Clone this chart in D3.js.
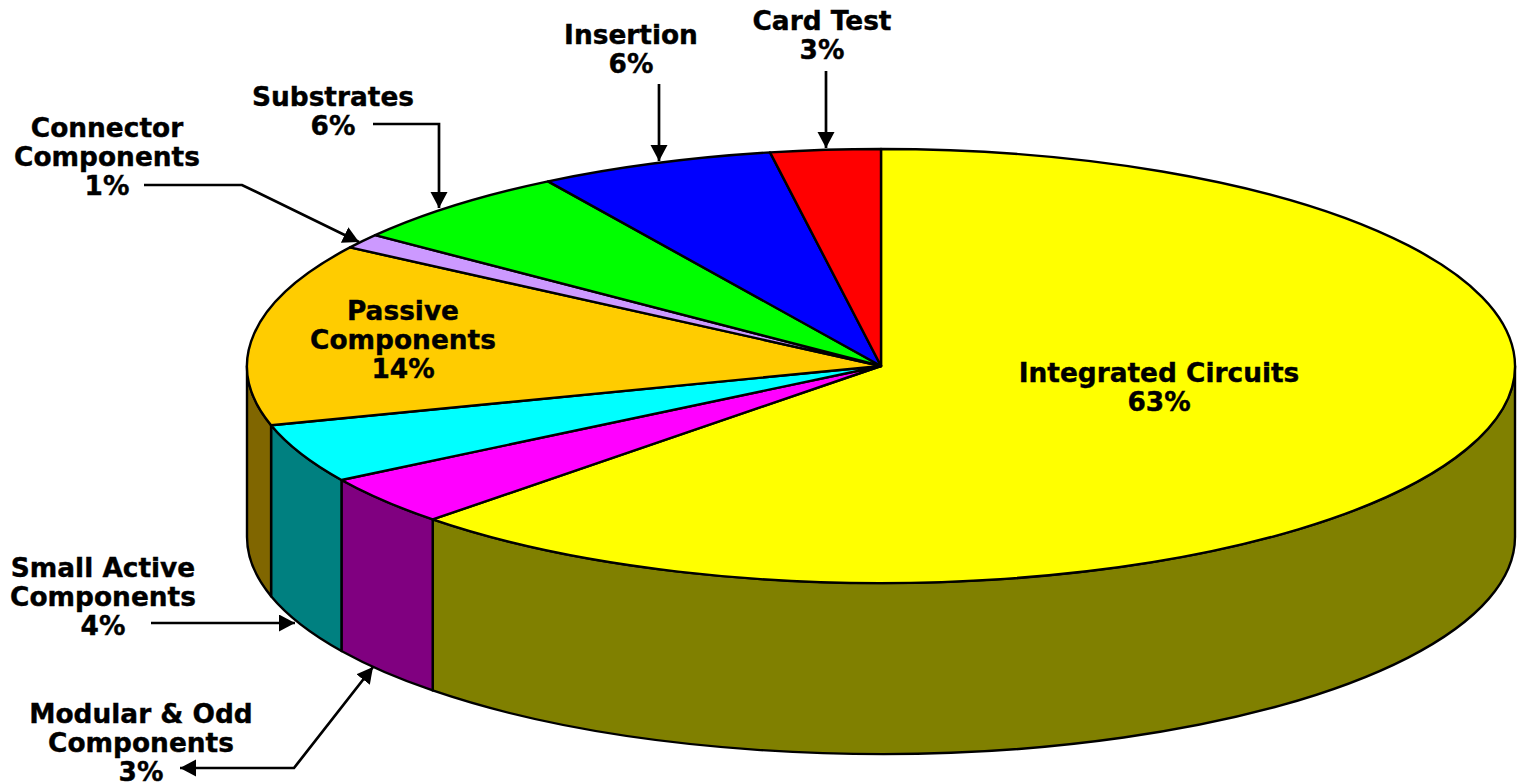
<!DOCTYPE html>
<html>
<head>
<meta charset="utf-8"/>
<script src="https://d3js.org/d3.v7.min.js"></script>
<style>
  html, body { margin: 0; background: #fff; }
  svg { display: block; }
  text { font-family: "DejaVu Sans", Verdana, sans-serif; font-weight: bold; font-size: 26.4px; fill: #000; stroke: #000; stroke-width: 0.4px; text-anchor: middle; }
</style>
</head>
<body>
<script>
// slice data, clockwise from 12 o'clock
var categories = ["Integrated Circuits", "Modular & Odd Components", "Small Active Components", "Passive Components", "Connector Components", "Substrates", "Insertion", "Card Test"];
var values = [62.5, 3.7, 4.4, 13.6, 1.1, 5.9, 6, 2.8];
var shownPct = ["63%", "3%", "4%", "14%", "1%", "6%", "6%", "3%"];
var topColors = ["#ffff00", "#ff00ff", "#00ffff", "#ffcc00", "#cc99ff", "#00ff00", "#0000ff", "#ff0000"];
var sideColors = ["#808000", "#800080", "#008080", "#806600", "#666699", "#008000", "#000080", "#800000"];

// label layout: line breaks, centre x, first baseline
var labelLines = [["Integrated Circuits"], ["Modular & Odd", "Components"], ["Small Active", "Components"], ["Passive", "Components"], ["Connector", "Components"], ["Substrates"], ["Insertion"], ["Card Test"]];
var labelX = [1159, 141, 103, 403, 107, 333, 631, 822];
var labelY = [382, 723, 577, 320, 137, 106, 44, 30];
var lineHeight = 29;

// callout arrows
var callouts = [
  {pts: [[826, 71], [826, 148]]},
  {pts: [[659, 84], [659, 161]]},
  {pts: [[373, 124], [439, 124], [439, 208]]},
  {pts: [[144, 185], [242, 185], [359, 242]]},
  {pts: [[151, 623], [295, 623]]},
  {pts: [[180, 768], [294, 768], [373, 667]], both: true}
];

var width = 1518, height = 783;
var cx = 881, cy = 366, rx = 634, ry = 217, depth = 171;

var svg = d3.select("body").append("svg").attr("width", width).attr("height", height);

var defs = svg.append("defs");
defs.append("marker").attr("id", "head")
  .attr("markerUnits", "userSpaceOnUse")
  .attr("markerWidth", 18).attr("markerHeight", 18)
  .attr("refX", 16).attr("refY", 8.5)
  .attr("orient", "auto-start-reverse")
  .append("path").attr("d", "M0,0L16,8.5L0,17Z").attr("fill", "#000");

var arcs = d3.pie().sort(null).value(function(d) { return d; })(values);

// point on the rim, a = angle clockwise from top
function rim(a, dy) {
  return [cx + rx * Math.sin(a), cy - ry * Math.cos(a) + (dy || 0)];
}

// front wall of a slice, only the part between 3 and 9 o'clock can be seen
function wallPath(d) {
  var a0 = Math.max(d.startAngle, Math.PI / 2), a1 = Math.min(d.endAngle, 3 * Math.PI / 2);
  if (a1 <= a0) return null;
  var p0 = rim(a0), p1 = rim(a1), q0 = rim(a0, depth), q1 = rim(a1, depth);
  var large = a1 - a0 > Math.PI ? 1 : 0;
  return "M" + p0 + "A" + rx + "," + ry + ",0," + large + ",1," + p1 +
    "L" + q1 + "A" + rx + "," + ry + ",0," + large + ",0," + q0 + "Z";
}

svg.append("g").selectAll("path")
  .data(arcs.filter(wallPath))
  .enter().append("path")
  .attr("d", wallPath)
  .attr("fill", function(d) { return sideColors[d.index]; })
  .attr("stroke", "#000").attr("stroke-width", 2.4).attr("stroke-linejoin", "round");

// top face: a d3 arc squashed into the ellipse
var arc = d3.arc().innerRadius(0).outerRadius(rx);
svg.append("g")
  .attr("transform", "translate(" + cx + "," + cy + ") scale(1," + (ry / rx) + ")")
  .selectAll("path")
  .data(arcs)
  .enter().append("path")
  .attr("d", arc)
  .attr("fill", function(d) { return topColors[d.index]; })
  .attr("stroke", "#000").attr("stroke-width", 2.4).attr("stroke-linejoin", "round")
  .attr("vector-effect", "non-scaling-stroke");

// callouts
var line = d3.line();
svg.append("g").selectAll("path")
  .data(callouts)
  .enter().append("path")
  .attr("d", function(d) { return line(d.pts); })
  .attr("fill", "none").attr("stroke", "#000").attr("stroke-width", 2.7)
  .attr("marker-end", "url(#head)")
  .attr("marker-start", function(d) { return d.both ? "url(#head)" : null; });

// labels
var labels = svg.append("g").selectAll("text")
  .data(categories)
  .enter().append("text")
  .attr("y", function(d, i) { return labelY[i]; });

labels.each(function(d, i) {
  var el = d3.select(this);
  labelLines[i].concat([shownPct[i]]).forEach(function(t, k) {
    el.append("tspan").attr("x", labelX[i]).attr("dy", k ? lineHeight : 0).text(t);
  });
});
</script>
</body>
</html>
